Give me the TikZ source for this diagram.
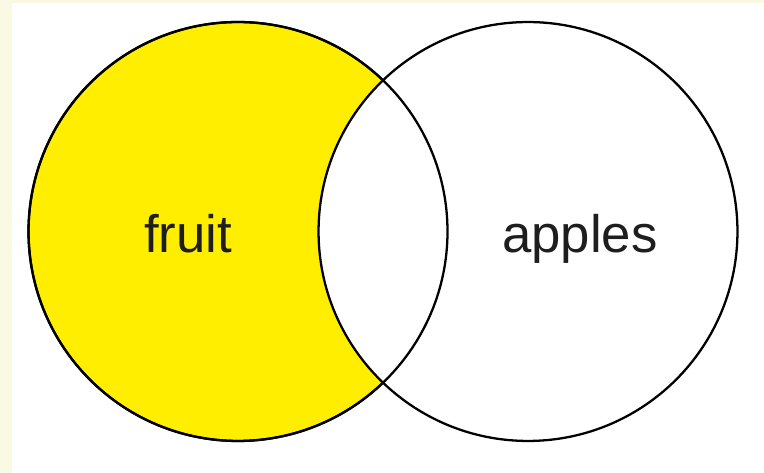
\documentclass[tikz,border=0pt]{standalone}
\usepackage{fontspec}
\setmainfont{Liberation Sans}
\usepackage{tikz}
\definecolor{setyellow}{HTML}{FFEE00}
\definecolor{pagecream}{HTML}{FAFAE4}
\definecolor{labelgrey}{HTML}{1E1E1E}

\begin{document}
\begin{tikzpicture}[
  x=0.02cm, y=0.02cm,
  set/.style={draw=black, line width=1.3pt, circle, minimum size=8.38cm, inner sep=0pt},
  lbl/.style={anchor=base, text=labelgrey, font=\fontsize{30}{36}\selectfont, inner sep=0pt}
]
\useasboundingbox (0,0) rectangle (764,473);
\fill[pagecream] (0,0) rectangle (764,473);
\fill[white] (12,0) rectangle (764,470);

\node[set, fill=setyellow] (fruitset) at (238,241.5) {};
\node[set, fill=white] (appleset) at (528,241.5) {};
\draw[line width=1.3pt] (fruitset.center) circle[radius=209.5];

\node[lbl] (fruit) at (188,220) {fruit};
\node[lbl] (apples) at (580,220) {apples};
\end{tikzpicture}
\end{document}
